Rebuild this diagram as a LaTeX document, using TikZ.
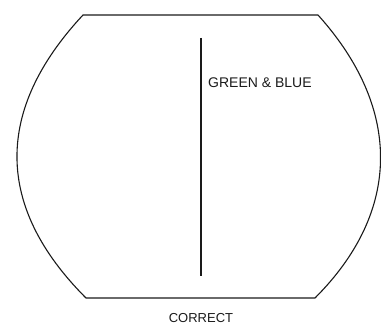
\documentclass[tikz,border=0pt]{standalone}
\usepackage{fontspec}
\setsansfont{Liberation Sans}
\usepackage{xcolor}
\usepackage{tikz}
\definecolor{ink}{HTML}{1A1A1A}

\begin{document}
\begin{tikzpicture}[x=1pt,y=1pt,
  screen/.style={draw=ink,line width=1.1pt,line join=round},
  beam/.style={draw=ink,line width=2.4pt},
  lbl/.style={font=\sffamily\fontsize{14}{16}\selectfont,text=ink,inner sep=0pt}
]
  \useasboundingbox (0,0) rectangle (381,327);
  % screen outline
  \coordinate (tl) at (83,312);
  \coordinate (tr) at (318,312);
  \coordinate (br) at (315,29);
  \coordinate (bl) at (86,29);
  \draw[screen] (tl) -- (tr) to[out=-48,in=45,looseness=1.12] (br) -- (bl)
    to[out=135,in=-133,looseness=1.17] cycle;
  % vertical line
  \coordinate (beamtop) at (201,289);
  \coordinate (beambot) at (201,51);
  \draw[beam] (beamtop) -- (beambot);
  \node[lbl,anchor=west] (gb) at (208,244) {GREEN \& BLUE};
  \node[lbl,font=\sffamily\fontsize{13}{15}\selectfont] (caption) at (201,8.5) {CORRECT};
\end{tikzpicture}
\end{document}
